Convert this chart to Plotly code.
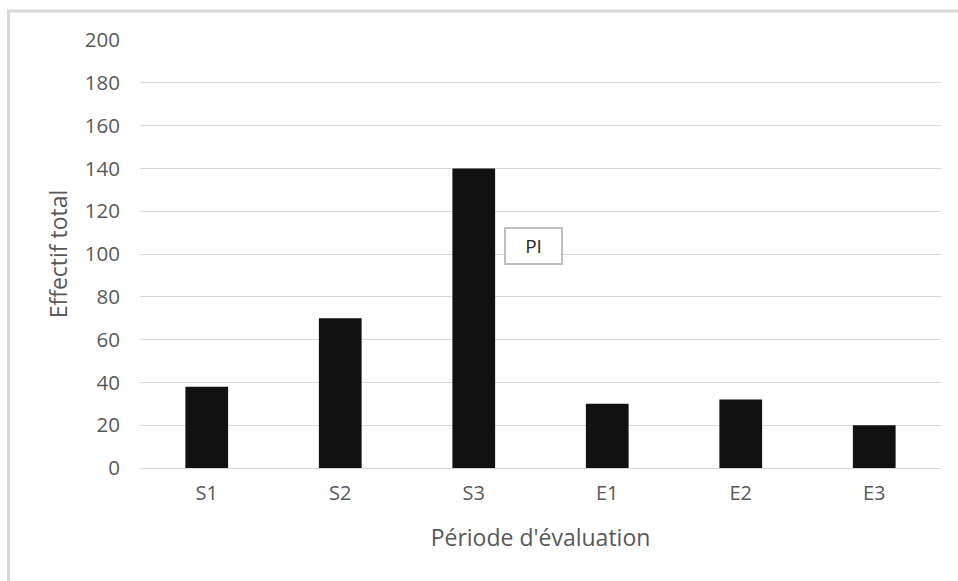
import plotly.graph_objects as go

# Total counts per evaluation period
periods = ["S1", "S2", "S3", "E1", "E2", "E3"]
effectif = [38, 70, 140, 30, 32, 20]
y_ticks = [0, 20, 40, 60, 80, 100, 120, 140, 160, 180, 200]

W, H = 958, 581
L, R, T, B = 140, 17, 39.5, 113
pw, ph = W - L - R, H - T - B

def px_x(x):
    return (x - L) / pw

def px_y(y):
    return 1 - (y - T) / ph

text_color = "#595959"
font_family = "Open Sans, Liberation Sans, sans-serif"

fig = go.Figure(
    go.Bar(
        x=periods,
        y=effectif,
        marker=dict(color="#111111", line=dict(width=0)),
        width=0.32,
        name="PI",
        showlegend=False,
    )
)

fig.update_layout(
    width=W,
    height=H,
    margin=dict(l=L, r=R, t=T, b=B, pad=0),
    paper_bgcolor="white",
    plot_bgcolor="white",
    font=dict(family=font_family, color=text_color, size=20),
    xaxis=dict(
        showgrid=False,
        showline=False,
        ticks="",
        tickfont=dict(size=20, color=text_color),
        title=dict(text="Période d'évaluation", font=dict(size=23, color=text_color), standoff=24),
        ticklabelstandoff=11,
    ),
    yaxis=dict(
        range=[0, 200],
        tickvals=y_ticks,
        showgrid=True,
        gridcolor="#d9d9d9",
        gridwidth=1.3,
        zeroline=True,
        zerolinecolor="#d9d9d9",
        zerolinewidth=1.3,
        showline=False,
        ticks="",
        tickfont=dict(size=20.5, color=text_color),
        ticklabelstandoff=19,
        title=dict(text="Effectif total", font=dict(size=23, color=text_color), standoff=10),
    ),
    shapes=[
        dict(
            type="rect",
            xref="paper", yref="paper",
            x0=px_x(8.5), x1=px_x(W + 10),
            y0=px_y(H + 10), y1=px_y(10.5),
            line=dict(color="#d9d9d9", width=3),
            fillcolor="rgba(0,0,0,0)",
            layer="below",
        )
    ],
    annotations=[
        dict(
            text="PI",
            xref="paper", yref="paper",
            x=px_x(533.5), y=px_y(246),
            xanchor="center", yanchor="middle",
            showarrow=False,
            width=55, height=34,
            bgcolor="white",
            bordercolor="#bfbfbf",
            borderwidth=2,
            borderpad=0,
            font=dict(size=19, color="#262626", family=font_family),
        )
    ],
)

fig.write_html("out.html")
